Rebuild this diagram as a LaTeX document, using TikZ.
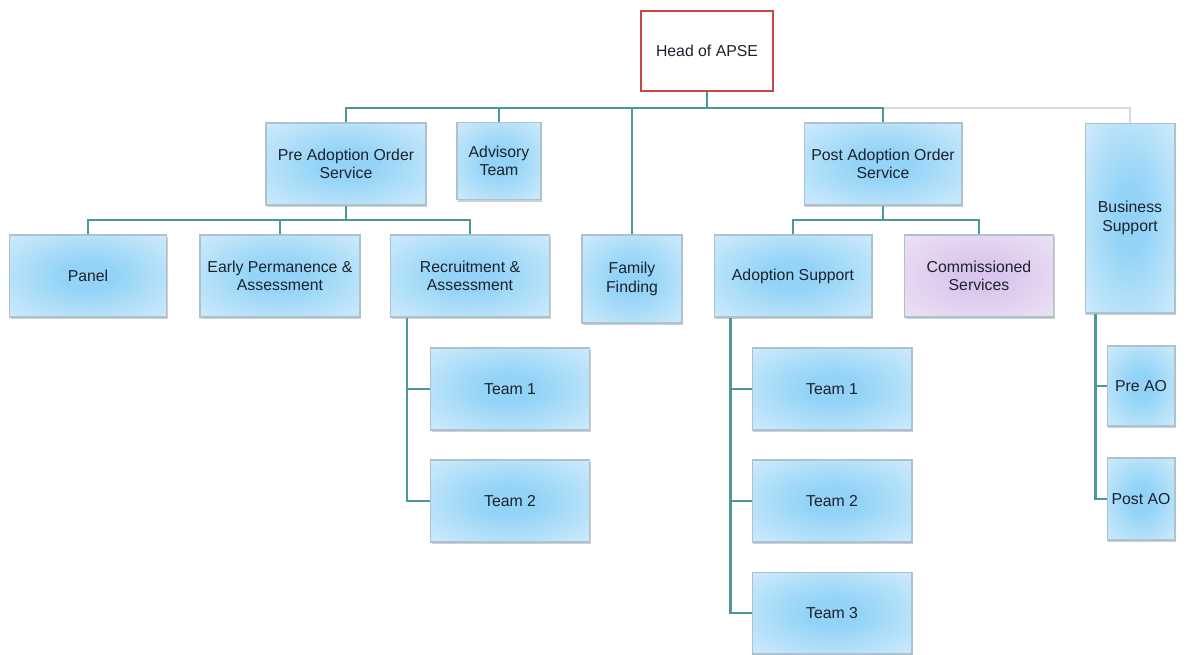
\documentclass[tikz,border=0pt]{standalone}
\usepackage{fontspec}
\setmainfont{Liberation Sans}
\usepackage{xcolor}
\usetikzlibrary{shadows}
\definecolor{boxin}{RGB}{146,211,247}
\definecolor{boxout}{RGB}{212,237,251}
\definecolor{boxline}{RGB}{170,194,210}
\definecolor{purin}{RGB}{218,198,236}
\definecolor{purout}{RGB}{238,228,245}
\definecolor{linkcol}{RGB}{76,152,152}
\definecolor{faintcol}{RGB}{210,218,222}
\definecolor{headred}{RGB}{196,72,70}
\definecolor{textcol}{RGB}{28,34,44}
\pgfdeclareradialshading{blueglow}{\pgfpoint{0bp}{0bp}}{color(0bp)=(boxin); color(8bp)=(boxin); color(38bp)=(boxout); color(50bp)=(boxout)}
\pgfdeclareradialshading{purpleglow}{\pgfpoint{0bp}{0bp}}{color(0bp)=(purin); color(8bp)=(purin); color(38bp)=(purout); color(50bp)=(purout)}

\begin{document}
\begin{tikzpicture}[x=0.02cm,y=-0.02cm,
  box/.style={draw=boxline, line width=0.6pt, shading=blueglow,
    align=center, font=\fontsize{9}{10.5}\selectfont, text=textcol,
    minimum width=3.2cm, minimum height=1.64cm, inner sep=2pt,
    drop shadow={shadow xshift=0.7pt, shadow yshift=-1.3pt, opacity=0.35, fill=black!55}},
  pbox/.style={box, shading=purpleglow},
  link/.style={draw=linkcol, line width=1.4pt},
  faint/.style={draw=faintcol, line width=1.2pt}]
    \useasboundingbox (0,0) rectangle (1195,654);

    \node[draw=headred, line width=1.1pt, fill=white, text=textcol,
      font=\fontsize{9}{10.5}\selectfont, minimum width=2.64cm, minimum height=1.6cm] (head) at (707,51) {Head of APSE};

    \node[box] (pre) at (346,164) {Pre Adoption Order\\Service};
    \node[box, minimum width=1.68cm, minimum height=1.54cm] (adv) at (499,161) {Advisory\\Team};
    \node[box, minimum width=2cm, minimum height=1.76cm] (fam) at (632,279) {Family\\Finding};
    \node[box, minimum width=3.16cm] (post) at (883,164) {Post Adoption Order\\Service};
    \node[box, minimum width=1.8cm, minimum height=3.8cm] (bus) at (1130,218) {Business\\Support};

    \node[box, minimum width=3.14cm] (panel) at (88,276) {Panel};
    \node[box] (ear) at (280,276) {Early Permanence \&\\Assessment};
    \node[box, minimum width=3.18cm] (rec) at (470,276) {Recruitment \&\\Assessment};
    \node[box, minimum width=3.16cm] (ads) at (793,276) {Adoption Support};
    \node[pbox, minimum width=2.98cm] (com) at (979,276) {Commissioned\\Services};

    \node[box, minimum width=3.18cm] (rt1) at (510,389) {Team 1};
    \node[box, minimum width=3.18cm] (rt2) at (510,501) {Team 2};
    \node[box] (at1) at (832,389) {Team 1};
    \node[box] (at2) at (832,501) {Team 2};
    \node[box] (at3) at (832,613) {Team 3};
    \node[box, minimum width=1.36cm, minimum height=1.6cm] (pao) at (1141,386) {Pre AO};
    \node[box, minimum width=1.36cm] (qao) at (1141,499) {Post AO};

    \coordinate (b1) at (0,108);
    \coordinate (b2) at (0,220);
    \coordinate (rs) at ([xshift=0.34cm]rec.south west);
    \coordinate (as) at ([xshift=0.34cm]ads.south west);
    \coordinate (bs) at ([xshift=0.22cm]bus.south west);

    \draw[faint] (post.north |- b1) -| (bus.north);
    \draw[link] (pre.north) -- (pre.north |- b1) -| (post.north);
    \draw[link] (head.south) -- (head.south |- b1);
    \draw[link] (adv.north) -- (adv.north |- b1);
    \draw[link] (fam.north) -- (fam.north |- b1);

    \draw[link] (pre.south) -- (pre.south |- b2);
    \draw[link] (panel.north) -- (panel.north |- b2) -| (rec.north);
    \draw[link] (ear.north) -- (ear.north |- b2);
    \draw[link] (post.south) -- (post.south |- b2);
    \draw[link] (ads.north) -- (ads.north |- b2) -| (com.north);

    \draw[link] (rs) |- (rt2.west);
    \draw[link] (rt1.west) -- (rt1.west -| rs);
    \draw[link] (as) |- (at3.west);
    \draw[link] (at1.west) -- (at1.west -| as);
    \draw[link] (at2.west) -- (at2.west -| as);
    \draw[link] (bs) |- (qao.west);
    \draw[link] (pao.west) -- (pao.west -| bs);
\end{tikzpicture}
\end{document}
